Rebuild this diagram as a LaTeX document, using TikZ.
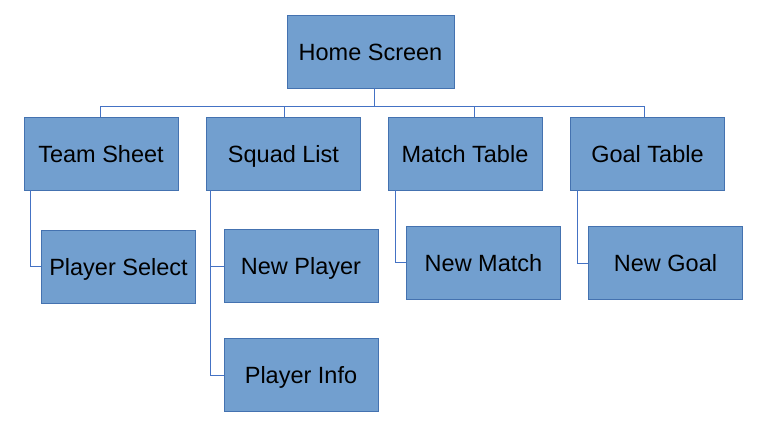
\documentclass[tikz,border=0pt]{standalone}
\usepackage{fontspec}
\setmainfont{Liberation Sans}
\usepackage{xcolor}
\usepackage{tikz}
\definecolor{boxfill}{RGB}{114,159,207}
\definecolor{boxline}{RGB}{68,114,176}
\definecolor{linkblue}{RGB}{68,114,196}

\begin{document}
\begin{tikzpicture}
  [x=1pt,y=-1pt,every node/.style={rectangle,draw=boxline,fill=boxfill,line width=0.8pt,inner sep=0pt,minimum width=154pt,minimum height=73pt,text height=17pt,text depth=0pt,font=\fontsize{23.5}{28}\selectfont},
   link/.style={draw=linkblue,line width=0.8pt}] % all boxes share one look, the links are thin blue lines
    \useasboundingbox (0,0) rectangle (764,423);

    \node[minimum width=167pt] (home) at (370.5,51.5) {Home Screen};

    \node (team)  at (101,153.5)   {Team Sheet};
    \node (squad) at (283.5,153.5) {Squad List};
    \node (match) at (465,153.5)   {Match Table};
    \node (goal)  at (647.5,153.5) {Goal Table};

    \node (psel)  at (118.5,266.5) {Player Select};
    \node (newp)  at (301,266)     {New Player};
    \node (pinfo) at (301,375)     {Player Info};
    \node (newm)  at (483.5,262.5) {New Match};
    \node (newg)  at (665.5,263)   {New Goal};

    \draw[link] ([xshift=3.5pt]home.south) -- ++(0,17.7) -| ([xshift=-1pt]team.north);
    \draw[link] ([xshift=3.5pt]home.south) -- ++(0,17.7) -| ([xshift=1.2pt]squad.north);
    \draw[link] ([xshift=3.5pt]home.south) -- ++(0,17.7) -| ([xshift=9.7pt]match.north);
    \draw[link] ([xshift=3.5pt]home.south) -- ++(0,17.7) -| ([xshift=-3.5pt]goal.north);

    \draw[link] ([xshift=7pt]team.south west) |- (psel.west);
    \draw[link] ([xshift=4pt]squad.south west) |- (newp.west);
    \draw[link] ([xshift=4pt]squad.south west) |- (pinfo.west);
    \draw[link] ([xshift=8pt]match.south west) |- (newm.west);
    \draw[link] ([xshift=7pt]goal.south west) |- (newg.west);

\end{tikzpicture}
\end{document}
